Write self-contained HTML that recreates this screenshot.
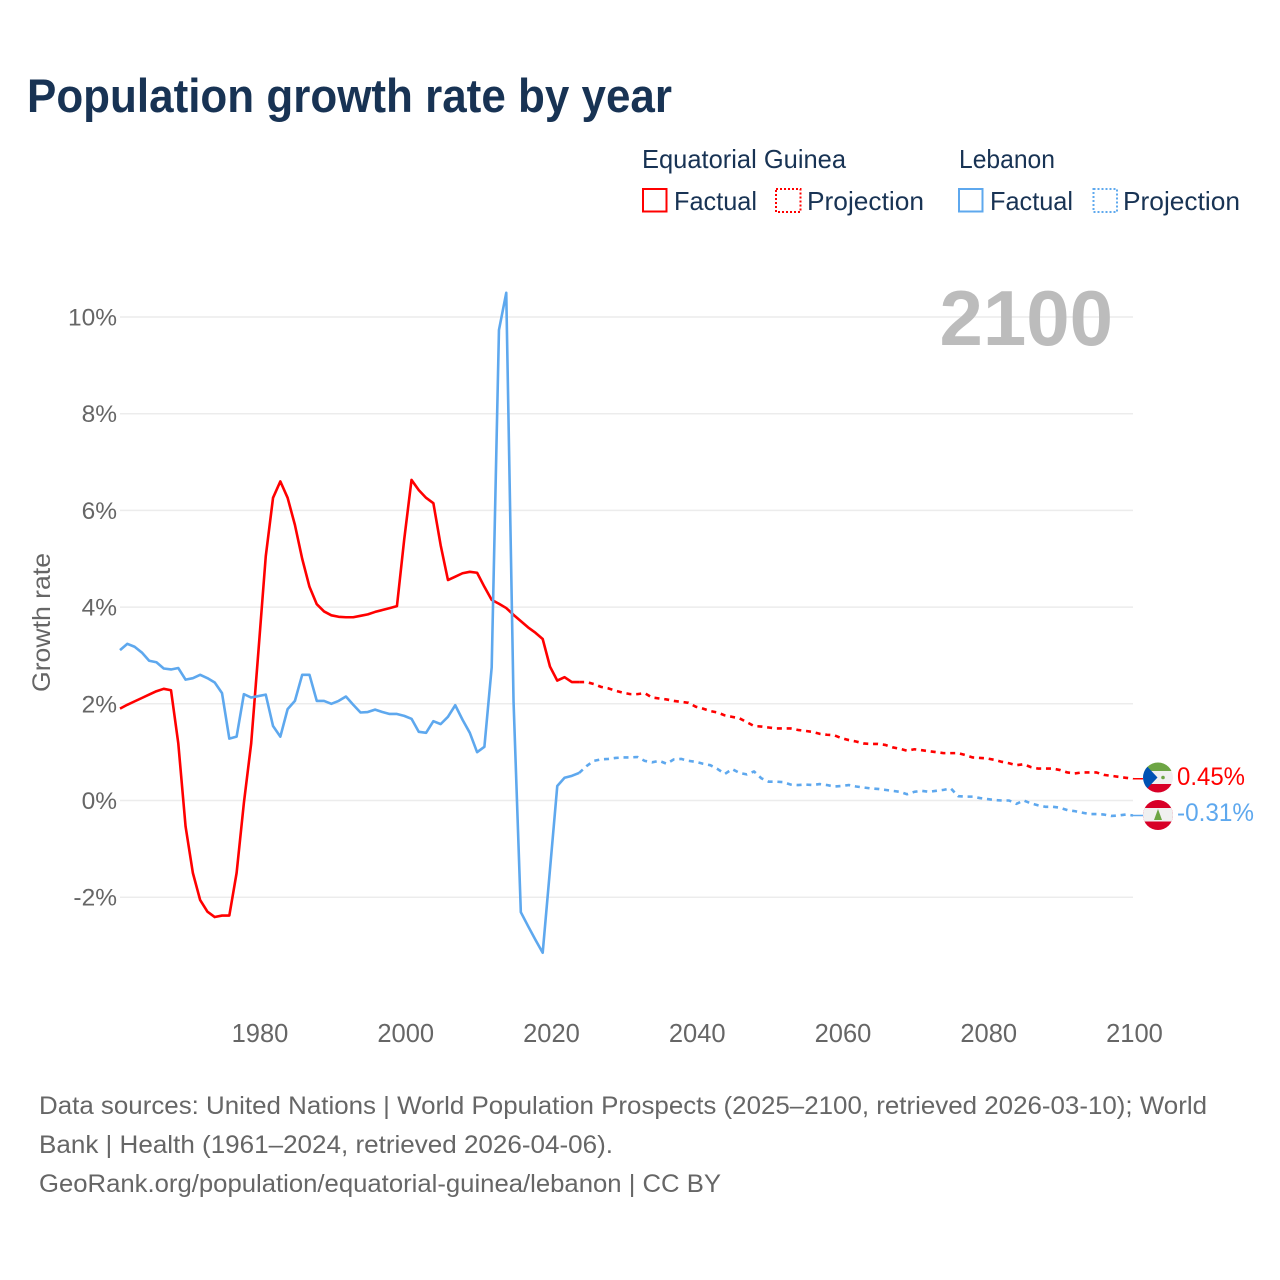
<!DOCTYPE html>
<html lang="en">
<head>
<meta charset="utf-8">
<title>Population growth rate by year</title>
<style>
html,body{margin:0;padding:0;background:#fff;}
svg{display:block;}
text{font-family:"Liberation Sans",sans-serif;}
</style>
</head>
<body>
<svg id="chart" xmlns="http://www.w3.org/2000/svg" width="1280" height="1280" viewBox="0 0 1280 1280">
  <rect x="0" y="0" width="1280" height="1280" fill="#fff"/>
  <defs>
    <clipPath id="clip-eq"><circle cx="1158" cy="777.5" r="15"/></clipPath>
    <clipPath id="clip-lb"><circle cx="1158" cy="815" r="15"/></clipPath>
  </defs>
  <text x="27" y="112" font-size="47" font-weight="700" fill="#183354" textLength="645" lengthAdjust="spacingAndGlyphs">Population growth rate by year</text>

  <g fill="#183354" font-size="26">
    <text x="642" y="168" textLength="204" lengthAdjust="spacingAndGlyphs">Equatorial Guinea</text>
    <text x="959" y="168" textLength="96" lengthAdjust="spacingAndGlyphs">Lebanon</text>
    <rect x="643" y="189" width="23.5" height="22.5" fill="none" stroke="#ff0000" stroke-width="2"/>
    <text x="674" y="210" textLength="83" lengthAdjust="spacingAndGlyphs">Factual</text>
    <rect x="776" y="189" width="24.5" height="23" fill="none" stroke="#ff0000" stroke-width="2" stroke-dasharray="2 2"/>
    <text x="807" y="210" textLength="117" lengthAdjust="spacingAndGlyphs">Projection</text>
    <rect x="959" y="189" width="23.5" height="22.5" fill="none" stroke="#5ea8ee" stroke-width="2"/>
    <text x="990" y="210" textLength="83" lengthAdjust="spacingAndGlyphs">Factual</text>
    <rect x="1093.500" y="189" width="23.5" height="23" fill="none" stroke="#5ea8ee" stroke-width="2" stroke-dasharray="2 2"/>
    <text x="1123" y="210" textLength="117" lengthAdjust="spacingAndGlyphs">Projection</text>
  </g>

  <g id="grid"></g>
  <g id="y-ticks"></g>
  <g id="x-ticks"></g>
  <text transform="translate(50 622.5) rotate(-90)" text-anchor="middle" font-size="25" fill="#666" textLength="139" lengthAdjust="spacingAndGlyphs">Growth rate</text>
  <text id="year-label" x="1113" y="345" text-anchor="end" font-size="78" font-weight="700" fill="#bcbcbc">2100</text>
  <g id="series"></g>

  <g clip-path="url(#clip-eq)">
    <rect x="1143" y="762" width="30" height="9" fill="#6da544"/>
    <rect x="1143" y="771" width="30" height="13" fill="#f0f0f0"/>
    <rect x="1143" y="784" width="30" height="9" fill="#d80027"/>
    <polygon points="1143,762 1157.500,777.500 1143,793" fill="#0052b4"/>
    <circle cx="1163" cy="777.500" r="1.800" fill="#6da544"/>
  </g>
  <g clip-path="url(#clip-lb)">
    <rect x="1143" y="800" width="30" height="30" fill="#d80027"/>
    <rect x="1143" y="808" width="30" height="13.500" fill="#f0f0f0"/>
    <polygon points="1158,809 1162,820 1154,820" fill="#6da544"/>
  </g>
  <text id="label-eq" x="1177" y="785" font-size="25" fill="#ff0000" textLength="68" lengthAdjust="spacingAndGlyphs">0.45%</text>
  <text id="label-lb" x="1177" y="821" font-size="25" fill="#5ea8ee" textLength="77" lengthAdjust="spacingAndGlyphs">-0.31%</text>

  <g font-size="25" fill="#666">
    <text x="39" y="1114" textLength="1168" lengthAdjust="spacingAndGlyphs">Data sources: United Nations | World Population Prospects (2025–2100, retrieved 2026-03-10); World</text>
    <text x="39" y="1153" textLength="574" lengthAdjust="spacingAndGlyphs">Bank | Health (1961–2024, retrieved 2026-04-06).</text>
    <text x="39" y="1192" textLength="682" lengthAdjust="spacingAndGlyphs">GeoRank.org/population/equatorial-guinea/lebanon | CC BY</text>
  </g>
</svg>
<script>
const yTickValues = [10, 8, 6, 4, 2, 0, -2];
const xTickYears = [1980, 2000, 2020, 2040, 2060, 2080, 2100];
const firstYear = 1961;
const projectionStartYear = 2024;

const eqFactual = [
  1.90,1.98,2.05,2.12,2.19,2.26,2.31,2.28,1.18,-0.54,
  -1.50,-2.06,-2.30,-2.41,-2.38,-2.38,-1.50,-0.05,1.18,3.10,
  5.05,6.26,6.60,6.26,5.70,5.00,4.42,4.06,3.91,3.83,
  3.80,3.79,3.79,3.82,3.85,3.90,3.94,3.98,4.02,5.40,
  6.63,6.42,6.26,6.15,5.28,4.56,4.63,4.70,4.73,4.71,
  4.42,4.15,4.07,3.98,3.84,3.71,3.58,3.47,3.34,2.77,
  2.48,2.55,2.45,2.45
];
const eqProjection = [
  2.45,2.45,2.41,2.35,2.32,2.27,2.23,
  2.20,2.20,2.22,2.13,2.11,2.09,2.06,2.04,2.02,1.94,
  1.90,1.85,1.82,1.76,1.73,1.70,1.62,1.54,1.53,1.51,
  1.49,1.49,1.49,1.46,1.44,1.42,1.38,1.36,1.35,1.29,
  1.25,1.22,1.18,1.17,1.17,1.15,1.10,1.07,1.03,1.06,
  1.04,1.02,1.00,0.98,0.98,0.98,0.94,0.89,0.88,0.87,
  0.84,0.80,0.77,0.73,0.75,0.69,0.66,0.66,0.66,0.63,
  0.58,0.56,0.58,0.58,0.58,0.53,0.51,0.49,0.47,0.45
];
const lbFactual = [
  3.11,3.24,3.18,3.06,2.89,2.86,2.73,2.71,2.74,2.50,
  2.53,2.60,2.53,2.44,2.22,1.28,1.32,2.20,2.13,2.16,
  2.19,1.54,1.32,1.89,2.06,2.60,2.60,2.06,2.06,2.00,
  2.06,2.15,1.98,1.82,1.83,1.88,1.83,1.79,1.79,1.75,
  1.69,1.42,1.40,1.64,1.58,1.73,1.97,1.67,1.40,1.00,
  1.11,2.75,9.73,10.50,2.05,-2.31,-2.60,-2.88,-3.15,-1.43,
  0.30,0.47,0.51,0.57
];
const lbProjection = [
  0.57,0.71,0.82,0.85,0.86,0.88,0.89,
  0.89,0.90,0.82,0.79,0.82,0.76,0.85,0.86,0.82,0.80,
  0.76,0.73,0.65,0.55,0.65,0.57,0.54,0.60,0.46,0.39,
  0.39,0.38,0.33,0.32,0.33,0.32,0.34,0.32,0.29,0.30,
  0.32,0.29,0.27,0.25,0.24,0.22,0.20,0.18,0.13,0.18,
  0.20,0.18,0.20,0.22,0.25,0.09,0.08,0.08,0.05,0.03,
  0.01,0.00,0.00,-0.07,0.00,-0.06,-0.10,-0.13,-0.13,-0.15,
  -0.20,-0.22,-0.25,-0.28,-0.28,-0.29,-0.32,-0.31,-0.29,-0.31
];

const NS = 'http://www.w3.org/2000/svg';
const PLOT_LEFT = 120, PLOT_RIGHT = 1133, YEAR_MIN = 1961, YEAR_MAX = 2100;
const Y_ZERO = 800.5, PX_PER_UNIT = 48.35;
function xScale(year) {
  return PLOT_LEFT + (year - YEAR_MIN) * (PLOT_RIGHT - PLOT_LEFT) / (YEAR_MAX - YEAR_MIN);
}
function yScale(value) {
  return Y_ZERO - value * PX_PER_UNIT;
}
function make(tag, attrs) {
  const node = document.createElementNS(NS, tag);
  for (const key in attrs) node.setAttribute(key, attrs[key]);
  return node;
}
function pathFrom(values, startYear) {
  return values.map(function (v, i) {
    return (i ? 'L' : 'M') + xScale(startYear + i).toFixed(2) + ' ' + yScale(v).toFixed(2);
  }).join(' ');
}

const gridGroup = document.getElementById('grid');
const yGroup = document.getElementById('y-ticks');
yTickValues.forEach(function (v) {
  const line = make('line', { x1: PLOT_LEFT, x2: PLOT_RIGHT, y1: yScale(v), y2: yScale(v), stroke: '#ececec', 'stroke-width': 1.5 });
  
  
  gridGroup.appendChild(line);
  const label = make('text', { x: 117, y: yScale(v) + 8.5, 'text-anchor': 'end', 'font-size': 24.5, fill: '#666' });
  
  
  label.textContent = v + '%';
  yGroup.appendChild(label);
});

const xGroup = document.getElementById('x-ticks');
xTickYears.forEach(function (year) {
  const label = make('text', { x: xScale(year) + 1.5, y: 1042, 'text-anchor': 'middle', 'font-size': 25.5, fill: '#666' });
  
  
  label.textContent = year;
  xGroup.appendChild(label);
});

const seriesGroup = document.getElementById('series');
function addLine(values, startYear, color, dashed, name) {
  const p = make('path', { d: pathFrom(values, startYear), fill: 'none', stroke: color, 'stroke-width': 2.6, 'stroke-linejoin': 'round' });
  if (dashed) p.setAttribute('stroke-dasharray', '5 4.8');
  
  
  seriesGroup.appendChild(p);
  return p;
}
addLine(eqFactual, firstYear, '#ff0000', false, 'line-equatorial-guinea-factual');
addLine(eqProjection, projectionStartYear, '#ff0000', true, 'line-equatorial-guinea-projection');
addLine(lbFactual, firstYear, '#5ea8ee', false, 'line-lebanon-factual');
addLine(lbProjection, projectionStartYear, '#5ea8ee', true, 'line-lebanon-projection');

function addLeader(values, color, name) {
  const y = yScale(values[values.length - 1]);
  const leader = make('line', { x1: PLOT_RIGHT, x2: 1143, y1: y, y2: y, stroke: color, 'stroke-width': 1.5 });
  
  
  seriesGroup.appendChild(leader);
}
addLeader(eqProjection, '#ff0000', 'leader-equatorial-guinea');
addLeader(lbProjection, '#5ea8ee', 'leader-lebanon');

document.getElementById('label-eq').textContent = eqProjection[eqProjection.length - 1].toFixed(2) + '%';
document.getElementById('label-lb').textContent = lbProjection[lbProjection.length - 1].toFixed(2) + '%';
</script>
</body>
</html>
